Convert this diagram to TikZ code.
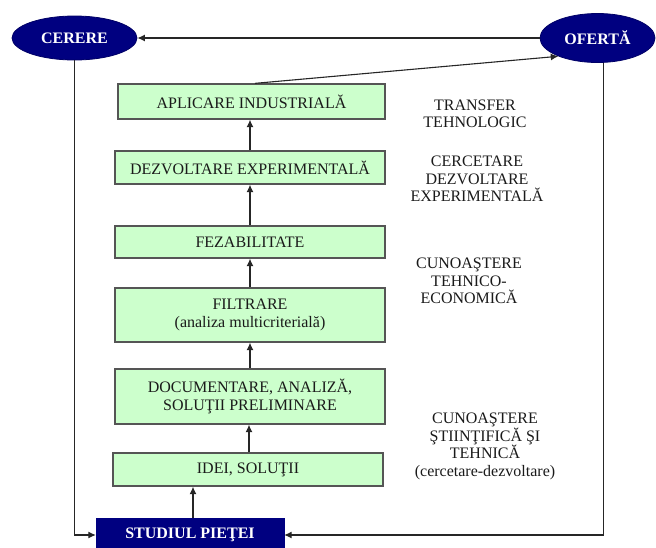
\documentclass[tikz,border=0pt]{standalone}
\usepackage{fontspec}
\setmainfont{Liberation Serif}
\usetikzlibrary{shapes.geometric,arrows.meta}
\definecolor{navyfill}{HTML}{000080}
\definecolor{stagefill}{HTML}{CCFFCC}
\definecolor{stageline}{HTML}{555555}
\definecolor{inkgray}{HTML}{1A1A1A}
\tikzset{
  every node/.style={font=\fontsize{16}{17.5}\selectfont, text=inkgray},
  market/.style={ellipse, fill=navyfill, draw=navyfill!80!black, line width=0.8pt,
    text=white, font=\fontsize{16}{17.5}\selectfont\bfseries, inner sep=0pt},
  stagebox/.style={rectangle, fill=stagefill, draw=stageline, line width=1.3pt,
    align=center, inner sep=0pt},
  studybox/.style={rectangle, fill=navyfill, draw=navyfill, inner sep=0pt,
    text=white, font=\fontsize{16}{17.5}\selectfont\bfseries},
  phase/.style={align=center, inner sep=0pt},
  flow/.style={draw=black!85, line width=1.1pt, -{Latex[length=7.5pt,width=7pt]}},
  plain/.style={draw=black!85, line width=1.1pt}
}
\begin{document}
\begin{tikzpicture}[x=1pt,y=-1pt]
\useasboundingbox (0,0) rectangle (656,547);

% market ends
\node[market, minimum width=125, minimum height=44] (cerere) at (74.5,38) {CERERE};
\node[market, minimum width=115, minimum height=49] (oferta) at (597.5,38) {OFERTĂ};

% development stages
\node[stagebox, minimum width=267, minimum height=35] (aplic) at (251.5,101.5) {APLICARE INDUSTRIALĂ};
\node[stagebox, minimum width=270, minimum height=33] (dezv) at (250,167.5) {DEZVOLTARE EXPERIMENTALĂ};
\node[stagebox, minimum width=270, minimum height=32] (fezab) at (250,242) {FEZABILITATE};
\node[stagebox, minimum width=270, minimum height=54] (filtr) at (250,315) {FILTRARE\\(analiza multicriterială)};
\node[stagebox, minimum width=270, minimum height=55] (docum) at (250,396.5) {DOCUMENTARE, ANALIZĂ,\\SOLUŢII PRELIMINARE};
\node[stagebox, minimum width=270, minimum height=33] (idei) at (248,469.5) {IDEI, SOLUŢII};
\node[studybox, minimum width=188, minimum height=34] (studiu) at (190,535) {STUDIUL PIEŢEI};

% phase labels
\node[phase] (t1) at (475,114) {TRANSFER\\TEHNOLOGIC};
\node[phase] (t2) at (477,179) {CERCETARE\\DEZVOLTARE\\EXPERIMENTALĂ};
\node[phase] (t3) at (469,281) {CUNOAŞTERE\\TEHNICO-\\ECONOMICĂ};
\node[phase] (t4) at (485,446.5) {CUNOAŞTERE\\ŞTIINŢIFICĂ ŞI\\TEHNICĂ\\(cercetare-dezvoltare)};

% upward chain
\draw[flow] ([xshift=3]studiu.north) -- ([xshift=3]studiu.north |- idei.south);
\draw[flow] ([xshift=1]idei.north) -- ([xshift=1]idei.north |- docum.south);
\draw[flow] (docum.north) -- (docum.north |- filtr.south);
\draw[flow] (filtr.north) -- (filtr.north |- fezab.south);
\draw[flow] (fezab.north) -- (fezab.north |- dezv.south);
\draw[flow] (dezv.north) -- (dezv.north |- aplic.south);
\draw[flow] ([xshift=3.5]aplic.north) -- (oferta.205);

% market loop
\draw[flow] (oferta.west) -- (cerere.east);
\draw[flow] (cerere.south) |- (studiu.west);
\draw[flow] (oferta.-77) |- (studiu.east);
\end{tikzpicture}
\end{document}
